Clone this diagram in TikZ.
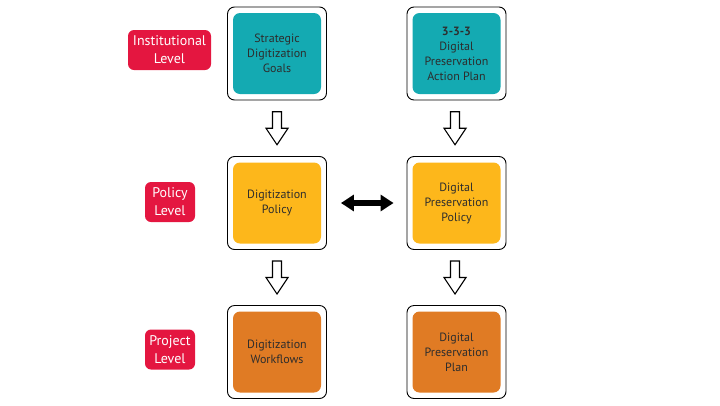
\documentclass[tikz,border=0pt]{standalone}
\usepackage{fontspec}
\setmainfont{PT Sans}
\usetikzlibrary{calc,arrows.meta}
\definecolor{tealfill}{RGB}{20,170,178}
\definecolor{yellowfill}{RGB}{253,183,27}
\definecolor{orangefill}{RGB}{224,123,36}
\definecolor{levelred}{RGB}{228,22,64}
\definecolor{boxtext}{RGB}{45,45,45}
\begin{document}
\begin{tikzpicture}[x=1pt, y=-1pt,
  frame/.style={draw=black, line width=0.9pt, fill=white, rounded corners=7pt,
    minimum width=99pt, minimum height=93pt, inner sep=0pt},
  inbox/.style={rounded corners=7pt, minimum width=88pt, minimum height=81pt,
    inner sep=0pt, align=center, text=boxtext, font=\fontsize{12}{15}\selectfont},
  level/.style={fill=levelred, rounded corners=6pt, minimum height=40pt,
    inner sep=0pt, align=center, text=white, font=\fontsize{14}{18}\selectfont},
  downarrow/.pic={\draw[line width=1.1pt, fill=white, line join=miter]
    (-4.5,-16.5)--(4.5,-16.5)--(4.5,0)--(11,0)--(0,16.5)--(-11,0)--(-4.5,0)--cycle;},
  dblarrow/.style={line width=6.5pt, {Triangle[length=13pt,width=16pt]}-{Triangle[length=13pt,width=16pt]},
    shorten <=14pt, shorten >=13pt}]
\useasboundingbox (0,0) rectangle (720,405);
% level labels
\node[level, minimum width=83pt] (inst) at (169.5,50) {Institutional\\Level};
\node[level, minimum width=50pt] (pol) at (170,202) {Policy\\Level};
\node[level, minimum width=50pt] (proj) at (170,349.5) {Project\\Level};
% left column
\node[frame] (goals) at (277,53.5) {};
\node[inbox, fill=tealfill] (goalsin) at (goals) {Strategic\\Digitization\\Goals};
\node[frame] (dpol) at (277,203) {};
\node[inbox, fill=yellowfill] (dpolin) at (dpol) {Digitization\\Policy};
\node[frame] (dwork) at (277,352) {};
\node[inbox, fill=orangefill] (dworkin) at (dwork) {Digitization\\Workflows};
% right column
\node[frame] (action) at (456.5,53.5) {};
\node[inbox, fill=tealfill] (actionin) at (action) {\textbf{3-3-3}\\Digital\\Preservation\\Action Plan};
\node[frame] (ppol) at (456.5,203) {};
\node[inbox, fill=yellowfill] (ppolin) at (ppol) {Digital\\Preservation\\Policy};
\node[frame] (pplan) at (456.5,352) {};
\node[inbox, fill=orangefill] (pplanin) at (pplan) {Digital\\Preservation\\Plan};
% arrows
\path ($(goals.south)!0.5!(dpol.north)$) pic {downarrow};
\path ($(dpol.south)!0.5!(dwork.north)$) pic {downarrow};
\path ($(action.south)!0.5!(ppol.north)$) ++(-1.5,0) pic {downarrow};
\path ($(ppol.south)!0.5!(pplan.north)$) ++(-1.5,0) pic {downarrow};
\draw[dblarrow] (dpol.east) -- (ppol.west);
\end{tikzpicture}
\end{document}
